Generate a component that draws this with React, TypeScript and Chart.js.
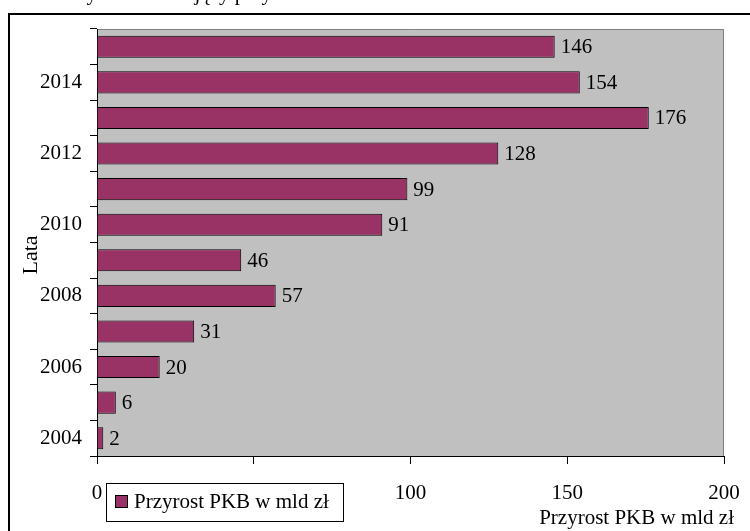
import React, { useEffect, useRef } from 'react';
import { Chart, registerables } from 'chart.js';

Chart.register(...registerables);

const years = ['2004', '2005', '2006', '2007', '2008', '2009', '2010', '2011', '2012', '2013', '2014', '2015'];
const values = [2, 6, 20, 31, 57, 46, 91, 99, 128, 176, 154, 146];
const xTickValues = [0, 50, 100, 150, 200];
const seriesName = 'Przyrost PKB w mld zł';
const xTitle = 'Przyrost PKB w mld zł';
const yTitle = 'Lata';
const captionText = 'Wykres obrazujący przyrost PKB w latach 2004–2015';

const FONT = "'Liberation Serif', 'Times New Roman', serif";
const BAR_COLOR = '#993366';

const decorPlugin = {
  id: 'decor',
  beforeDraw(chart: any) {
    const { ctx, chartArea: a, width, height } = chart;
    ctx.save();
    ctx.fillStyle = '#ffffff';
    ctx.fillRect(0, 0, width, height);
    ctx.fillStyle = '#C0C0C0';
    ctx.fillRect(a.left, a.top, a.right - a.left, a.bottom - a.top);
    ctx.strokeStyle = '#808080';
    ctx.lineWidth = 1;
    ctx.beginPath();
    ctx.moveTo(a.left, a.top + 0.5);
    ctx.lineTo(a.right - 0.5, a.top + 0.5);
    ctx.lineTo(a.right - 0.5, a.bottom);
    ctx.stroke();
    // outer frame
    ctx.strokeStyle = '#000';
    ctx.lineWidth = 2;
    ctx.strokeRect(9, 14, width + 40, height + 40);
    // caption (cut off at top)
    ctx.fillStyle = '#000';
    ctx.font = `21px ${FONT}`;
    ctx.textAlign = 'left';
    ctx.textBaseline = 'alphabetic';
    ctx.fillText(captionText, 68, 0);
    // y title
    ctx.save();
    ctx.translate(37, 255);
    ctx.rotate(-Math.PI / 2);
    ctx.font = `22px ${FONT}`;
    ctx.textAlign = 'center';
    ctx.textBaseline = 'alphabetic';
    ctx.fillText(yTitle, 0, 0);
    ctx.restore();
    // x title
    ctx.font = `21px ${FONT}`;
    ctx.textAlign = 'right';
    ctx.textBaseline = 'middle';
    ctx.fillText(xTitle, 734, 518);
    ctx.restore();
  },
  afterDatasetsDraw(chart: any) {
    const { ctx } = chart;
    const meta = chart.getDatasetMeta(0);
    ctx.save();
    ctx.fillStyle = '#000';
    ctx.font = `21px ${FONT}`;
    ctx.textAlign = 'left';
    ctx.textBaseline = 'middle';
    meta.data.forEach((bar: any, i: number) => {
      ctx.fillText(String(values[i]), bar.x + 6, bar.y + 1);
    });
    ctx.restore();
  },
  afterDraw(chart: any) {
    const { ctx } = chart;
    ctx.save();
    ctx.fillStyle = '#fff';
    ctx.fillRect(106, 483, 237, 38);
    ctx.strokeStyle = '#000';
    ctx.lineWidth = 1;
    ctx.strokeRect(106.5, 483.5, 237, 38);
    ctx.fillStyle = BAR_COLOR;
    ctx.fillRect(115, 495, 12, 13);
    ctx.strokeRect(115.5, 495.5, 12, 12);
    ctx.fillStyle = '#000';
    ctx.font = `21px ${FONT}`;
    ctx.textAlign = 'left';
    ctx.textBaseline = 'middle';
    ctx.fillText(seriesName, 134, 502);
    ctx.restore();
  },
};

export default function App() {
  const ref = useRef<HTMLCanvasElement | null>(null);
  useEffect(() => {
    if (!ref.current) return;
    const chart = new Chart(ref.current, {
      type: 'bar',
      data: {
        labels: years,
        datasets: [
          {
            label: seriesName,
            data: values,
            backgroundColor: BAR_COLOR,
            borderColor: '#000',
            borderWidth: 1,
            barPercentage: 0.62,
            categoryPercentage: 1,
          },
        ],
      },
      options: {
        indexAxis: 'y',
        animation: false,
        responsive: false,
        layout: { padding: { left: 0, top: 29, right: 26, bottom: 0 } },
        plugins: { legend: { display: false }, tooltip: { enabled: false } },
        scales: {
          y: {
            type: 'category',
            reverse: true,
            offset: true,
            afterFit: (s: any) => {
              s.width = 97;
              s.paddingTop = 0;
              s.paddingBottom = 0;
            },
            grid: { offset: true, drawOnChartArea: false, drawTicks: true, tickLength: 7, color: '#000', lineWidth: 1 },
            border: { display: true, color: '#000', width: 1 },
            ticks: {
              autoSkip: false,
              color: '#000',
              padding: 8,
              font: { family: FONT, size: 21 },
              callback: function (this: any, value: any) {
                const lab = this.getLabelForValue(value);
                return Number(lab) % 2 === 0 ? lab : '';
              },
            },
          },
          x: {
            type: 'linear',
            min: 0,
            max: 200,
            afterFit: (s: any) => {
              s.height = 75;
              s.paddingLeft = 0;
              s.paddingRight = 0;
            },
            afterBuildTicks: (s: any) => {
              s.ticks = xTickValues.map((v) => ({ value: v }));
            },
            grid: { drawOnChartArea: false, drawTicks: true, tickLength: 8, color: '#000', lineWidth: 1 },
            border: { display: true, color: '#000', width: 1 },
            ticks: {
              color: '#000',
              padding: 17,
              maxRotation: 0,
              font: { family: FONT, size: 21 },
            },
          },
        },
      },
      plugins: [decorPlugin],
    } as any);
    return () => chart.destroy();
  }, []);
  return (
    <div style={{ position: 'absolute', left: 0, top: 0, width: 750, height: 531 }}>
      <canvas ref={ref} width={750} height={531} style={{ width: 750, height: 531 }} />
    </div>
  );
}
